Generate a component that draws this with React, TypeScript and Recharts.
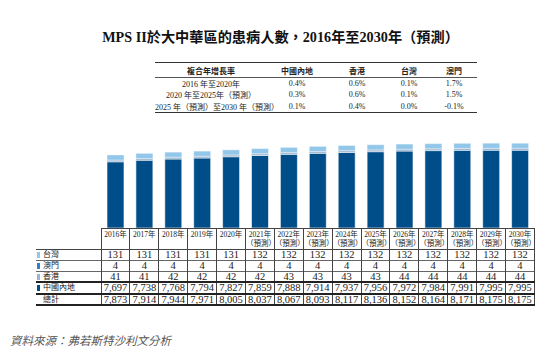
import React from 'react';
import { BarChart, Bar, XAxis, YAxis } from 'recharts';

// Patients with MPS II in Greater China, 2016-2030E
const YEARS = ['2016', '2017', '2018', '2019', '2020', '2021', '2022', '2023', '2024', '2025', '2026', '2027', '2028', '2029', '2030'];
const FORECAST_FROM = '2021';
const TAIWAN = [131, 131, 131, 131, 131, 132, 132, 132, 132, 132, 132, 132, 132, 132, 132];
const MACAU = [4, 4, 4, 4, 4, 4, 4, 4, 4, 4, 4, 4, 4, 4, 4];
const HONGKONG = [41, 41, 42, 42, 42, 42, 43, 43, 43, 43, 44, 44, 44, 44, 44];
const MAINLAND = [7697, 7738, 7768, 7794, 7827, 7859, 7888, 7914, 7937, 7956, 7972, 7984, 7991, 7995, 7995];
const TOTAL = [7873, 7914, 7944, 7971, 8005, 8037, 8067, 8093, 8117, 8136, 8152, 8164, 8171, 8175, 8175];

// CAGR table
const CAGR_HEADERS = ['複合年增長率', '中國內地', '香港', '台灣', '澳門'];
const CAGR_PERIODS = ['2016 年至2020年', '2020 年至2025年（預測）', '2025 年（預測）至2030 年（預測）'];
const CAGR_MAINLAND = ['0.4%', '0.3%', '0.1%'];
const CAGR_HONGKONG = ['0.6%', '0.6%', '0.4%'];
const CAGR_TAIWAN = ['0.1%', '0.1%', '0.0%'];
const CAGR_MACAU = ['1.7%', '1.5%', '-0.1%'];

const COLORS = {
  mainland: '#004e89',
  hongkong: '#9cb4cd',
  macau: '#2f80c8',
  taiwan: '#93c7ea',
};

const FONT = "'Liberation Serif', 'Noto Sans CJK TC', serif";
const TEXT = '#222';

const chartData = YEARS.map((y, i) => ({
  year: y,
  mainland: MAINLAND[i],
  hongkong: HONGKONG[i],
  macau: MACAU[i],
  taiwan: TAIWAN[i],
}));

const tableRows = [
  { label: '台灣', color: COLORS.taiwan, values: TAIWAN, border: '1px solid #666' },
  { label: '澳門', color: COLORS.macau, values: MACAU, border: '1px solid #666' },
  { label: '香港', color: COLORS.hongkong, values: HONGKONG, border: '2px solid #222' },
  { label: '中國內地', color: COLORS.mainland, values: MAINLAND, border: '2px solid #222' },
  { label: '總計', color: null, values: TOTAL, border: '2px solid #222' },
];

const fmt = (v: number) => v.toLocaleString('en-US');

const CagrTable = () => {
  const cols = [112, 60, 60, 44, 46];
  const values = [CAGR_MAINLAND, CAGR_HONGKONG, CAGR_TAIWAN, CAGR_MACAU];
  return (
    <table
      style={{
        position: 'absolute', left: 155, top: 62, width: 322,
        borderCollapse: 'collapse', tableLayout: 'fixed',
        fontFamily: FONT, fontSize: 8, color: TEXT,
        borderTop: '1.5px solid #333', borderBottom: '1.5px solid #333',
      }}
    >
      <colgroup>
        {cols.map((w, i) => <col key={i} style={{ width: w }} />)}
      </colgroup>
      <thead>
        <tr style={{ height: 15, borderBottom: '1px solid #555' }}>
          {CAGR_HEADERS.map((h) => (
            <th key={h} style={{ padding: 0, fontWeight: 600, textAlign: 'center' }}>{h}</th>
          ))}
        </tr>
      </thead>
      <tbody>
        {CAGR_PERIODS.map((p, r) => (
          <tr key={p} style={{ height: 11.5 }}>
            <td style={{ padding: 0, textAlign: 'center', whiteSpace: 'nowrap' }}>{p}</td>
            {values.map((v, c) => (
              <td key={c} style={{ padding: 0, textAlign: 'center' }}>{v[r]}</td>
            ))}
          </tr>
        ))}
      </tbody>
    </table>
  );
};

const DataTable = () => {
  const cell: React.CSSProperties = {
    padding: 0, textAlign: 'center', borderLeft: '1px solid #444', borderRight: '1px solid #444',
  };
  return (
    <table
      style={{
        position: 'absolute', left: 36, top: 228, width: 498.5,
        borderCollapse: 'collapse', tableLayout: 'fixed',
        fontFamily: FONT, color: TEXT,
      }}
    >
      <colgroup>
        <col style={{ width: 65 }} />
        {YEARS.map((y) => <col key={y} style={{ width: 28.9 }} />)}
      </colgroup>
      <thead>
        <tr style={{ height: 21, borderBottom: '1px solid #444' }}>
          <th style={{ padding: 0, borderRight: '1px solid #444' }} />
          {YEARS.map((y) => (
            <th
              key={y}
              style={{
                ...cell, borderTop: '1px solid #444', fontWeight: 400, fontSize: 7.5,
                lineHeight: '9px', verticalAlign: 'top', paddingTop: 1,
              }}
            >
              {y}年
              {Number(y) >= Number(FORECAST_FROM) && <><br />（預測）</>}
            </th>
          ))}
        </tr>
      </thead>
      <tbody>
        {tableRows.map((row) => (
          <tr key={row.label} style={{ height: 10.8, borderBottom: row.border }}>
            <td style={{ padding: 0, borderRight: '1px solid #444', fontSize: 8, lineHeight: '9px', whiteSpace: 'nowrap' }}>
              <span
                style={{
                  display: 'inline-block', width: 3, height: 6, marginLeft: 1, marginRight: 3,
                  background: row.color || 'transparent', verticalAlign: -1,
                }}
              />
              {row.label}
            </td>
            {row.values.map((v, i) => (
              <td key={i} style={{ ...cell, fontSize: 10.5, lineHeight: '9.5px' }}>{fmt(v)}</td>
            ))}
          </tr>
        ))}
      </tbody>
    </table>
  );
};

export default function App() {
  return (
    <div
      style={{
        position: 'absolute', left: 0, top: 0, width: 553, height: 363,
        background: '#fff', overflow: 'hidden',
      }}
    >
      <div
        style={{
          position: 'absolute', left: 0, top: 26, width: 561, textAlign: 'center',
          fontFamily: FONT, fontWeight: 700, fontSize: 14.2, color: '#111', whiteSpace: 'nowrap',
        }}
      >
        MPS II於大中華區的患病人數，2016年至2030年（預測）
      </div>

      <CagrTable />

      <div style={{ position: 'absolute', left: 0, top: 0 }}>
        <BarChart
          width={553}
          height={230}
          data={chartData}
          margin={{ top: 111, right: 18.5, bottom: 2, left: 101 }}
          barSize={17}
        >
          <XAxis dataKey="year" hide />
          <YAxis hide domain={[6000, 9000]} allowDataOverflow />
          <Bar dataKey="mainland" stackId="a" fill={COLORS.mainland} stroke="#fff" strokeWidth={0.6} isAnimationActive={false} />
          <Bar dataKey="hongkong" stackId="a" fill={COLORS.hongkong} stroke="#fff" strokeWidth={0.4} isAnimationActive={false} />
          <Bar dataKey="macau" stackId="a" fill={COLORS.macau} isAnimationActive={false} />
          <Bar dataKey="taiwan" stackId="a" fill={COLORS.taiwan} stroke="#fff" strokeWidth={0.4} isAnimationActive={false} />
        </BarChart>
      </div>

      <DataTable />

      <div
        style={{
          position: 'absolute', left: 10, top: 332, fontFamily: FONT, fontSize: 11.5,
          fontStyle: 'italic', color: '#555', whiteSpace: 'nowrap',
        }}
      >
        資料來源：弗若斯特沙利文分析
      </div>
    </div>
  );
}
